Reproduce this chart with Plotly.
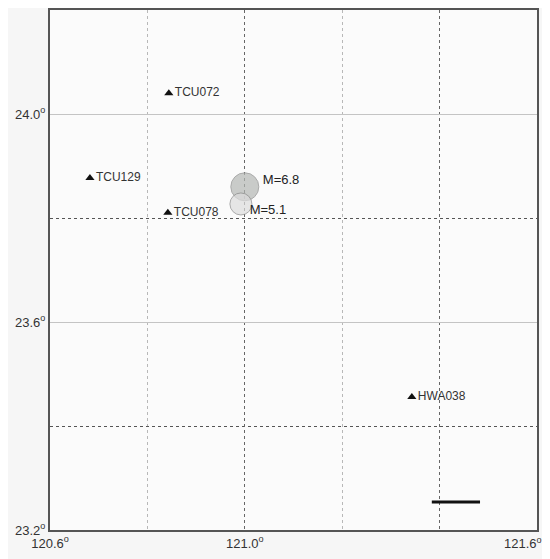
import plotly.graph_objects as go

# Stations
station_names = ["TCU072", "TCU129", "TCU078", "HWA038"]
station_lon = [120.844, 120.682, 120.842, 121.343]
station_lat = [24.040, 23.877, 23.810, 23.456]

# Epicenters
quake_labels = ["M=6.8", "M=5.1"]
quake_lon = [121.000, 120.992]
quake_lat = [23.860, 23.827]
quake_sizes = [28, 22]
quake_colors = ["#b4b8b4", "#dcdcdc"]

# Scale bar (km)
scale_lon = [121.384, 121.483]
scale_lat = [23.254, 23.254]

# Axis ticks
x_major = [120.6, 121.0, 121.4, 121.6]
x_major_text = ["120.6<sup>o</sup>", "121.0<sup>o</sup>", "", ""]
x_edge_label = "121.6<sup>o</sup>"
x_minor = [120.8, 121.2]
y_major = [23.2, 23.6, 24.0]
y_major_text = ["23.2<sup>o</sup>", "23.6<sup>o</sup>", "24.0<sup>o</sup>"]
y_minor = [23.4, 23.8]

fig = go.Figure()

fig.add_trace(go.Scatter(
    x=quake_lon, y=quake_lat, mode="markers",
    marker=dict(size=quake_sizes, color=quake_colors,
                line=dict(color="#8a8a8a", width=1)),
    showlegend=False, hoverinfo="skip"))

fig.add_trace(go.Scatter(
    x=[quake_lon[0] + 0.037, quake_lon[1] + 0.018],
    y=[quake_lat[0] + 0.012, quake_lat[1] - 0.013],
    mode="text", text=quake_labels, textposition="middle right",
    textfont=dict(size=13, color="#222222"),
    showlegend=False, hoverinfo="skip"))

fig.add_trace(go.Scatter(
    x=station_lon, y=station_lat, mode="markers+text",
    marker=dict(symbol="triangle-up", size=8, color="#111111"),
    text=station_names, textposition="middle right",
    textfont=dict(size=12, color="#333333"),
    showlegend=False, hoverinfo="skip"))

fig.add_trace(go.Scatter(
    x=scale_lon, y=scale_lat, mode="lines",
    line=dict(color="#111111", width=3),
    showlegend=False, hoverinfo="skip"))

fig.add_annotation(x=x_major[-1], xref="x", y=0, yref="paper",
                   text=x_edge_label, showarrow=False,
                   xanchor="right", yanchor="top", xshift=7, yshift=-3,
                   font=dict(size=13, color="#333333"))

fig.update_layout(
    width=542, height=551,
    margin=dict(l=42, r=13, t=2, b=29, autoexpand=False),
    paper_bgcolor="#f6f6f6", plot_bgcolor="#fbfbfb",
    font=dict(family="Liberation Sans, Arial, sans-serif", size=12, color="#333333"),
    xaxis=dict(range=[120.6, 121.6], tickmode="array", tickvals=x_major,
               ticktext=x_major_text, showgrid=True, gridcolor="#666666",
               griddash="dot", gridwidth=1, zeroline=False, automargin=False,
               showline=True, linecolor="#555555", linewidth=2, mirror=True,
               ticks="", tickfont=dict(size=13, color="#333333"),
               minor=dict(tickmode="array", tickvals=x_minor, showgrid=True,
                          gridcolor="#b8b8b8", griddash="dot", gridwidth=1)),
    yaxis=dict(range=[23.2, 24.2], tickmode="array", tickvals=y_major,
               ticktext=y_major_text, showgrid=True, gridcolor="#c4c4c4",
               gridwidth=1, zeroline=False, automargin=False,
               showline=True, linecolor="#555555", linewidth=2, mirror=True,
               ticks="", tickfont=dict(size=13, color="#333333"),
               minor=dict(tickmode="array", tickvals=y_minor, showgrid=True,
                          gridcolor="#555555", griddash="dot", gridwidth=1)),
)

fig.write_html("out.html")
